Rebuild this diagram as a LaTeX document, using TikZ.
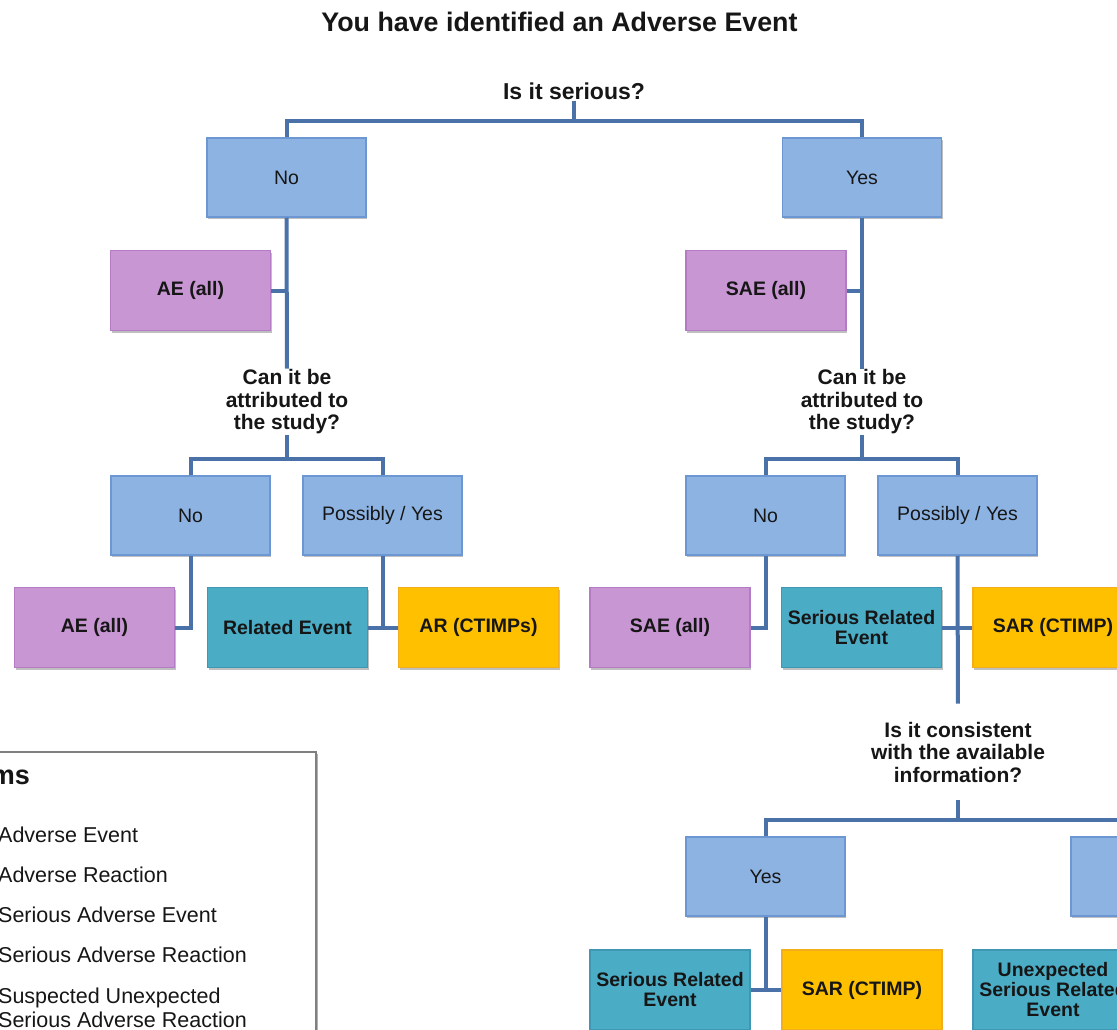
\documentclass[tikz,border=0pt]{standalone}
\usepackage{fontspec}
\setmainfont{Liberation Sans}
\usetikzlibrary{shadows}
\definecolor{bluefill}{HTML}{8DB3E2}
\definecolor{bluebd}{HTML}{6C97D2}
\definecolor{purfill}{HTML}{C896D3}
\definecolor{purbd}{HTML}{B47CC4}
\definecolor{tealfill}{HTML}{4BACC6}
\definecolor{tealbd}{HTML}{3F97B3}
\definecolor{goldfill}{HTML}{FFC000}
\definecolor{goldbd}{HTML}{F3AE1C}
\definecolor{linkblue}{HTML}{4A72A8}
\definecolor{txt}{HTML}{161616}
\definecolor{legbd}{HTML}{808080}

\tikzset{
  box/.style={rectangle, line width=1.5pt, minimum width=159pt, minimum height=79pt,
    inner sep=2pt, align=center, text=txt, font=\fontsize{19.5}{20}\selectfont,
    drop shadow={shadow xshift=1.2pt, shadow yshift=-2.2pt, opacity=.25, fill=black}},
  choice/.style={box, draw=bluebd, fill=bluefill},
  outcome/.style={box, minimum width=160pt, minimum height=80pt,
    font=\bfseries\fontsize{19.5}{20}\selectfont},
  aebox/.style={outcome, draw=purbd, fill=purfill},
  relbox/.style={outcome, draw=tealbd, fill=tealfill},
  arbox/.style={outcome, draw=goldbd, fill=goldfill},
  question/.style={align=center, inner sep=1pt, text=txt,
    font=\bfseries\fontsize{21}{22.5}\selectfont},
  conn/.style={draw=linkblue, line width=4pt},
  legtext/.style={anchor=west, inner sep=0pt, text=txt, align=left,
    font=\fontsize{21.5}{24}\selectfont}
}

\begin{document}
\begin{tikzpicture}[x=1pt,y=-1pt]
\useasboundingbox (0,0) rectangle (1117,1030);
\clip (0,0) rectangle (1117,1030);
\fill[white] (0,0) rectangle (1117,1030);

% heading
\node[text=txt, font=\bfseries\fontsize{26.8}{28}\selectfont] (title) at (559.5,22) {You have identified an Adverse Event};

% first decision
\node[question, font=\bfseries\fontsize{23}{24}\selectfont] (q1) at (574,91) {Is it serious?};
\coordinate (j1) at (574,121);
\node[choice] (no1) at (286.5,177.5) {No};
\node[choice] (yes1) at (862,177.5) {Yes};
\node[aebox] (ae1) at (190.5,290.5) {AE (all)};
\node[aebox] (sae1) at (766,290.5) {SAE (all)};

% relatedness, non-serious branch
\node[question] (q2) at (287,402) {Can it be\\attributed to\\the study?};
\coordinate (j2) at (287,459);
\node[choice] (no2) at (190.5,515.5) {No};
\node[choice] (py2) at (382.5,515.5) {Possibly / Yes};
\node[aebox] (ae3) at (94.5,627.5) {AE (all)};
\node[relbox] (rel3) at (287.5,627.5) {Related Event};
\node[arbox] (ar3) at (478.5,627.5) {AR (CTIMPs)};

% relatedness, serious branch
\node[question] (q2r) at (862,402) {Can it be\\attributed to\\the study?};
\coordinate (j2r) at (862,459);
\node[choice] (no2r) at (765.5,515.5) {No};
\node[choice] (py2r) at (957.5,515.5) {Possibly / Yes};
\node[aebox] (sae3) at (670,627.5) {SAE (all)};
\node[relbox] (sre3) at (861.5,627.5) {Serious Related\\Event};
\node[arbox] (sar3) at (1053,627.5) {SAR (CTIMP)};

% expectedness
\node[question] (q3) at (958,752) {Is it consistent\\with the available\\information?};
\coordinate (j3) at (958,820);
\node[choice] (yes4) at (765.5,876.5) {Yes};
\node[choice] (no4) at (1150.5,876.5) {};
\node[relbox] (sre5) at (670,990) {Serious Related\\Event};
\node[arbox] (sar5) at (862,990) {SAR (CTIMP)};
\node[relbox] (usre5) at (1053,990) {Unexpected\\Serious Related\\Event};

% connectors
\draw[conn] (q1.south) -- (j1);
\draw[conn] (no1.north) |- (j1) -| (yes1.north);
\draw[conn] (no1.south) -- (q2.north);
\draw[conn] (ae1.east) -- (ae1.east -| no1.south);
\draw[conn] (yes1.south) -- (q2r.north);
\draw[conn] (sae1.east) -- (sae1.east -| yes1.south);

\draw[conn] (q2.south) -- (j2);
\draw[conn] (no2.north) |- (j2) -| (py2.north);
\draw[conn] (no2.south) |- (ae3.east);
\draw[conn] (py2.south) |- (rel3.east);
\draw[conn] (rel3.east) -- (ar3.west);

\draw[conn] (q2r.south) -- (j2r);
\draw[conn] (no2r.north) |- (j2r) -| (py2r.north);
\draw[conn] (no2r.south) |- (sae3.east);
\draw[conn, shorten >=17pt] (py2r.south) -- (q3.north);
\draw[conn] (sre3.east) -- (sar3.west);

\draw[conn, shorten <=17pt] (q3.south) -- (j3);
\draw[conn] (yes4.north) |- (j3) -| (no4.north);
\draw[conn] (yes4.south) |- (sre5.east);
\draw[conn] (sre5.east) -- (sar5.west);

% key of terms
\draw[draw=legbd, line width=1.5pt, fill=white,
  drop shadow={shadow xshift=2pt, shadow yshift=-2pt, opacity=.3, fill=black}]
  (-20,752) rectangle (316,1060);
\node[anchor=east, inner sep=0pt, text=txt, font=\bfseries\fontsize{27}{28}\selectfont] (keyhead) at (30,777) {ms};
\node[legtext] (k1) at (-2,835) {Adverse Event};
\node[legtext] (k2) at (-2,875) {Adverse Reaction};
\node[legtext] (k3) at (-2,915) {Serious Adverse Event};
\node[legtext] (k4) at (-2,955) {Serious Adverse Reaction};
\node[legtext] (k5) at (-2,1008) {Suspected Unexpected\\Serious Adverse Reaction};
\end{tikzpicture}
\end{document}
